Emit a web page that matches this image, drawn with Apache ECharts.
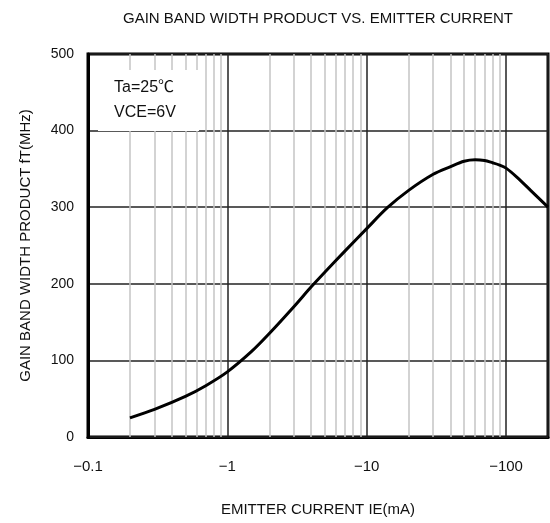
<!DOCTYPE html>
<html>
<head>
<meta charset="utf-8">
<script src="https://cdn.jsdelivr.net/npm/echarts@6/dist/echarts.min.js"></script>
<style>
  html, body { margin: 0; padding: 0; background: #fff; }
  #chart { width: 550px; height: 523px; }
</style>
</head>
<body>
<div id="chart"></div>
<script>
// emitter current (mA, shown as negative) and fT (MHz)
let currentList = [0.2, 0.3, 0.5, 0.7, 1, 1.5, 2, 3, 4, 5, 7, 10, 14, 20, 30, 40, 50, 60, 70, 80, 90, 100, 120, 150, 200];
let ftList = [25, 36, 53, 67, 85, 112, 135, 170, 196, 215, 243, 272, 299, 322, 343, 353, 360, 362, 361, 358, 355, 351, 339, 322, 300];
// minor log gridlines
let minorTicks = [0.2, 0.3, 0.4, 0.5, 0.6, 0.7, 0.8, 0.9, 2, 3, 4, 5, 6, 7, 8, 9, 20, 30, 40, 50, 60, 70, 80, 90];
let yTicks = [0, 100, 200, 300, 400, 500];

let font = 'Liberation Sans, Noto Sans CJK JP, sans-serif';

let curveData = [];
for (let i = 0; i < currentList.length; i++) {
    curveData.push([currentList[i], ftList[i]]);
}

let option = {
    backgroundColor: '#ffffff',
    animation: false,
    title: {
        text: 'GAIN BAND WIDTH PRODUCT VS. EMITTER CURRENT',
        left: 313,
        top: 6,
        textAlign: 'center',
        textStyle: { fontFamily: font, fontSize: 15, fontWeight: 'normal', color: '#111' }
    },
    grid: {
        left: 88,
        right: 2,
        top: 54,
        bottom: 86,
        show: true,
        borderColor: '#000',
        borderWidth: 3,
        backgroundColor: 'transparent'
    },
    xAxis: {
        type: 'log',
        logBase: 10,
        min: 0.1,
        max: 200,
        name: 'EMITTER CURRENT IE(mA)',
        nameLocation: 'middle',
        nameGap: 65,
        nameTextStyle: { fontFamily: font, fontSize: 15, color: '#111' },
        axisLine: { show: true, lineStyle: { color: '#000', width: 3 } },
        axisTick: { show: false },
        axisLabel: {
            fontFamily: font, fontSize: 15, color: '#111', margin: 22,
            showMaxLabel: false,
            formatter: function (v) { return '\u2212' + v; }
        },
        splitLine: { show: true, lineStyle: { color: '#222', width: 1.5 } }
    },
    yAxis: {
        type: 'value',
        min: yTicks[0],
        max: yTicks[yTicks.length - 1],
        interval: 100,
        name: 'GAIN BAND WIDTH PRODUCT fT(MHz)',
        nameLocation: 'middle',
        nameGap: 55,
        nameTextStyle: { fontFamily: font, fontSize: 15, color: '#111' },
        axisLine: { show: true, lineStyle: { color: '#000', width: 3 } },
        axisTick: { show: false },
        axisLabel: { fontFamily: font, fontSize: 14, color: '#111', margin: 14 },
        splitLine: { show: true, lineStyle: { color: '#222', width: 1.5 } },
        z: 2
    },
    graphic: [
        {
            type: 'rect',
            shape: { x: 98, y: 70, width: 101, height: 61 },
            style: { fill: '#fff' },
            z: 10
        },
        {
            type: 'text',
            x: 114, y: 88,
            style: { text: 'Ta=25\u2103', font: '16px ' + font, fill: '#111', verticalAlign: 'middle' },
            z: 11
        },
        {
            type: 'text',
            x: 114, y: 113,
            style: { text: 'VCE=6V', font: '16px ' + font, fill: '#111', verticalAlign: 'middle' },
            z: 11
        }
    ],
    series: [
        {
            type: 'line',
            data: [],
            z: 1,
            silent: true,
            markLine: {
                silent: true,
                symbol: 'none',
                label: { show: false },
                lineStyle: { color: '#c4c4c4', width: 1.5, type: 'solid' },
                data: minorTicks.map(function (t) { return { xAxis: t }; })
            }
        },
        {
            type: 'line',
            data: curveData,
            smooth: 0.3,
            symbol: 'none',
            z: 5,
            lineStyle: { color: '#000', width: 3 }
        }
    ]
};

let myChart = echarts.init(document.getElementById('chart'));
myChart.setOption(option);
</script>
</body>
</html>
